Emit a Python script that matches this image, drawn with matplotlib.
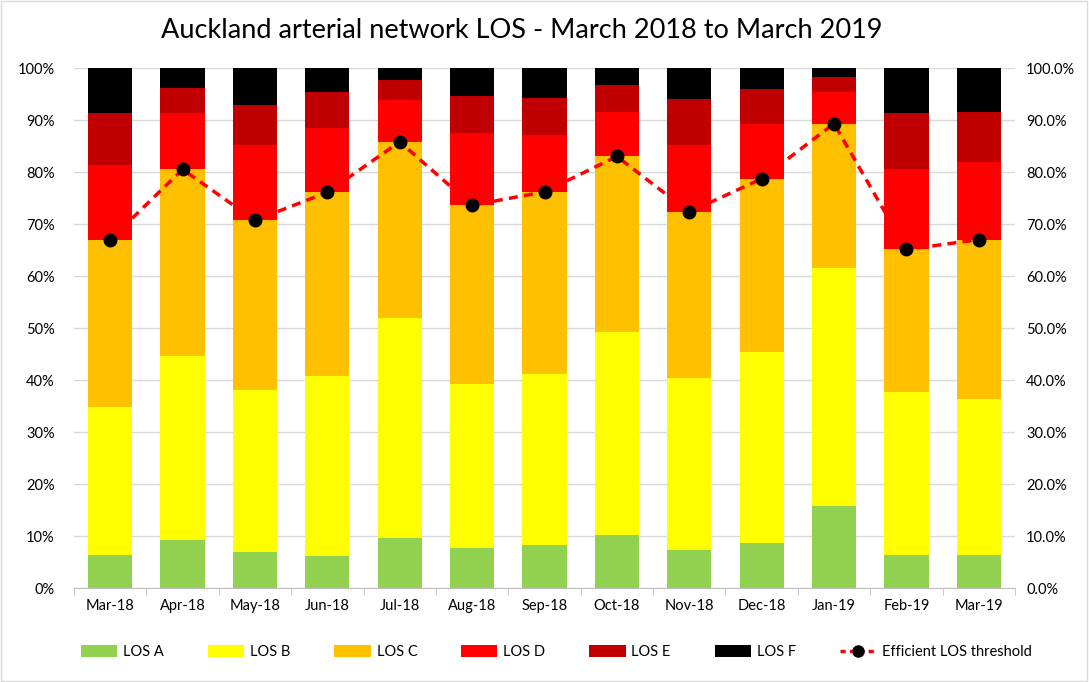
#!/usr/bin/env python3
"""Auckland arterial network LOS - stacked monthly shares with efficient-threshold line."""
import matplotlib
matplotlib.use("Agg")
import matplotlib.pyplot as plt
from matplotlib.patches import Patch, Rectangle
from matplotlib.lines import Line2D
from matplotlib.ticker import PercentFormatter, FixedLocator

plt.rcParams['font.family'] = ['Lato', 'DejaVu Sans']

# --- data (percent of network in each LOS band) ---
months = ['Mar-18', 'Apr-18', 'May-18', 'Jun-18', 'Jul-18', 'Aug-18', 'Sep-18',
          'Oct-18', 'Nov-18', 'Dec-18', 'Jan-19', 'Feb-19', 'Mar-19']
los_a = [6.4, 9.2, 7.0, 6.1, 9.7, 7.6, 8.2, 10.2, 7.3, 8.7, 15.8, 6.4, 6.4]
los_b = [28.4, 35.5, 31.0, 34.7, 42.2, 31.7, 32.9, 39.1, 33.1, 36.6, 45.7, 31.2, 29.9]
los_c = [32.2, 35.8, 32.7, 35.3, 33.9, 34.3, 35.1, 33.7, 31.9, 33.4, 27.8, 27.5, 30.7]
los_d = [14.4, 10.8, 14.4, 12.3, 8.1, 13.9, 11.0, 8.6, 12.9, 10.6, 6.1, 15.4, 15.0]
los_e = [10.0, 4.8, 7.8, 6.9, 3.8, 7.1, 7.0, 5.2, 8.8, 6.6, 2.9, 10.9, 9.6]
los_f = [8.6, 3.9, 7.1, 4.7, 2.3, 5.4, 5.8, 3.2, 6.0, 4.1, 1.7, 8.6, 8.4]
threshold = [67.0, 80.5, 70.7, 76.1, 85.8, 73.6, 76.2, 83.0, 72.3, 78.7, 89.3, 65.1, 67.0]

series = [('LOS A', los_a, '#92d050'), ('LOS B', los_b, '#ffff00'),
          ('LOS C', los_c, '#ffc000'), ('LOS D', los_d, '#ff0000'),
          ('LOS E', los_e, '#c00000'), ('LOS F', los_f, '#000000')]

fig = plt.figure(figsize=(10.89, 6.82), dpi=100)
ax = fig.add_axes([74 / 1089, 1 - 588 / 682, (1015 - 74) / 1089, (588 - 68) / 682])

x = list(range(len(months)))
bottom = [0.0] * len(months)
for name, vals, col in series:
    frac = [v / 100 for v in vals]
    ax.bar(x, frac, bottom=bottom, width=0.61, color=col, zorder=2, linewidth=0)
    bottom = [b + f for b, f in zip(bottom, frac)]

ax.set_xlim(-0.5, len(months) - 0.5)
ax.set_ylim(0, 1)
ax.yaxis.set_major_locator(FixedLocator([i / 10 for i in range(11)]))
ax.yaxis.set_major_formatter(PercentFormatter(1.0, decimals=0))
ax.grid(axis='y', color='#d9d9d9', linewidth=1, zorder=0)
ax.set_axisbelow(True)
ax.set_xticks(x)
ax.set_xticklabels(months)
ax.set_xticks([i - 0.5 for i in range(len(months) + 1)], minor=True)
ax.tick_params(axis='x', which='major', length=0, pad=8, labelsize=10.5)
ax.tick_params(axis='x', which='minor', length=5, color='#bfbfbf')
ax.tick_params(axis='y', length=0, labelsize=10.5, pad=14)
for s in ['top', 'left', 'right']:
    ax.spines[s].set_visible(False)
ax.spines['bottom'].set_color('#bfbfbf')

ax2 = ax.twinx()
ax2.set_ylim(0, 1)
ax2.yaxis.set_major_locator(FixedLocator([i / 10 for i in range(11)]))
ax2.yaxis.set_major_formatter(PercentFormatter(1.0, decimals=1))
ax2.tick_params(axis='y', length=0, labelsize=10.5, pad=8)
for s in ['top', 'left', 'right', 'bottom']:
    ax2.spines[s].set_visible(False)
ax2.plot(x, [t / 100 for t in threshold], color='#ff0000', linestyle=(0, (2.6, 1.8)),
         linewidth=2.5, marker='o', markersize=9, markerfacecolor='black',
         markeredgecolor='black', zorder=5)

fig.text(0.479, 1 - 30 / 682, 'Auckland arterial network LOS - March 2018 to March 2019',
         ha='center', va='center', fontsize=19.5)

handles = [Patch(facecolor=col, edgecolor='none') for _, _, col in series]
handles.append(Line2D([0], [0], color='#ff0000', linestyle=(0, (1.5, 1.2)), linewidth=2.5,
                      marker='o', markersize=8, markerfacecolor='black', markeredgecolor='black'))
labels = [n for n, _, _ in series] + ['Efficient LOS threshold']
fig.legend(handles, labels, loc='center', bbox_to_anchor=(0.511, 1 - 652 / 682), ncol=7,
           frameon=False, fontsize=10.5, columnspacing=3.0, handlelength=2.5,
           handleheight=0.9, handletextpad=0.4)

fig.patches.append(Rectangle((0.001, 0.001), 0.997, 0.997, transform=fig.transFigure,
                             fill=False, edgecolor='#d9d9d9', linewidth=1))

fig.savefig('out.png', dpi=100)
